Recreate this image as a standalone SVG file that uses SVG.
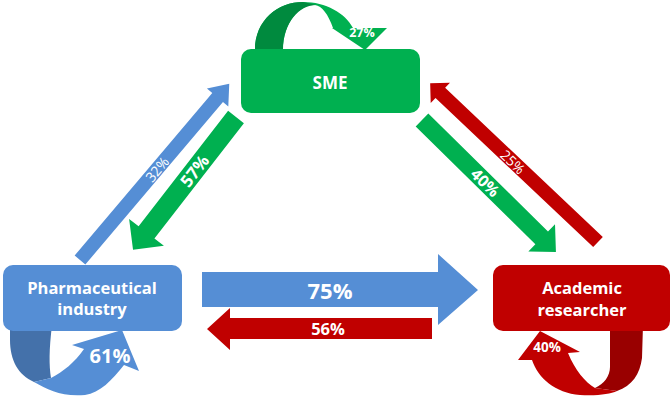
<svg xmlns="http://www.w3.org/2000/svg" width="672" height="399" viewBox="0 0 672 399">
<style>
.t{font-family:"Open Sans","Liberation Sans",sans-serif;fill:#fff;text-anchor:middle}
.b{font-weight:bold}
.blue{fill:#558ED5}
.green{fill:#00B050}
.red{fill:#C00000}
.dblue{fill:#4471AA}
.dgreen{fill:#008A3E}
.dred{fill:#990000}
</style>
<rect width="672" height="399" fill="#fff"/>
<g id="connectors">
  <!-- SME self loop -->
  <g id="loop-sme">
    <path class="green" d="M255,56 L255,50 C255,20 278,2 303,2 C326,2 345,13 353,28 L387,28 L365,50 L332,28 L333,28 C328,14 322,6 315,5 C300,4 283,22 283,50 L283,56 Z"/>
    <path class="dgreen" d="M255,56 L255,50 C255,20 278,2 303,2 L316,5 C300,5 283,22 283,50 L283,56 Z"/>
    <text class="t b" x="362" y="37" font-size="12.5">27%</text>
  </g>
  <!-- Pharma self loop -->
  <g id="loop-pharma">
    <path class="dblue" d="M10,325 L10,340 C10,360 18,375 34,382 L51,378 C49,365 49,350 52,325 Z"/>
    <path class="blue" d="M34,382 C48,390 62,397 85,395 C100,393 112,380 124,365 L139,371 L122,330 L72,345 L84,349 C75,362 63,372 51,378 Z"/>
    <text class="t b" x="110" y="363" font-size="20">61%</text>
  </g>
  <!-- Academic self loop -->
  <g id="loop-academic">
    <path class="dred" d="M610,325 L610,367 C610,376 604,384 595,388 L617,391 C632,386 640,374 642,358 L643,325 Z"/>
    <path class="red" d="M595,388 C585,382 575,370 568,353 L580,352 L540,331 L518,360 L532,360 C538,378 555,393 580,395 C598,396 610,394 617,391 Z"/>
    <text class="t b" x="547" y="352" font-size="13.5">40%</text>
  </g>
  <!-- Pharma -> SME 32% -->
  <g id="arrow-pharma-sme" transform="translate(80,260) rotate(-49.75)">
    <polygon class="blue" points="0,-7 213,-7 213,-14 231,0 213,14 213,7 0,7"/>
    <text class="t" x="119" y="0" dominant-baseline="central" font-size="14">32%</text>
  </g>
  <!-- SME -> Pharma 57% -->
  <g id="arrow-sme-pharma" transform="translate(236,117) rotate(127.8)">
    <polygon class="green" points="0,-10 146,-10 146,-22 168,0 146,22 146,10 0,10"/>
    <text class="t b" x="68" y="0" dominant-baseline="central" font-size="17" transform="rotate(180 68 0)">57%</text>
  </g>
  <!-- SME -> Academic 40% -->
  <g id="arrow-sme-academic" transform="translate(422,120) rotate(44.57)">
    <polygon class="green" points="0,-9 168,-9 168,-19 188,0 168,19 168,9 0,9"/>
    <text class="t b" x="89" y="0" dominant-baseline="central" font-size="16">40%</text>
  </g>
  <!-- Academic -> SME 25% -->
  <g id="arrow-academic-sme" transform="translate(598,242) rotate(-136.6)">
    <polygon class="red" points="0,-7 217,-7 217,-14 231,0 217,14 217,7 0,7"/>
    <text class="t" x="117" y="0" dominant-baseline="central" font-size="14" transform="rotate(180 117 0)">25%</text>
  </g>
  <!-- Pharma -> Academic 75% -->
  <g id="arrow-pharma-academic">
    <polygon class="blue" points="202,272 438,272 438,254 478,290 438,325 438,307 202,307"/>
    <text class="t b" x="330" y="299" font-size="22">75%</text>
  </g>
  <!-- Academic -> Pharma 56% -->
  <g id="arrow-academic-pharma">
    <polygon class="red" points="432,318 230,318 230,308 207,329 230,350 230,339 432,339"/>
    <text class="t b" x="328" y="335" font-size="16.5">56%</text>
  </g>
</g>
<g id="node-sme">
  <rect class="green" x="241" y="49" width="179" height="64" rx="10"/>
  <text class="t b" x="330" y="89" font-size="17">SME</text>
</g>
<g id="node-pharma">
  <rect class="blue" x="3" y="265" width="179" height="66" rx="10"/>
  <text class="t b" x="92" y="294" font-size="16.5">Pharmaceutical</text>
  <text class="t b" x="92" y="315" font-size="16.5">industry</text>
</g>
<g id="node-academic">
  <rect class="red" x="493" y="265" width="177" height="66" rx="10"/>
  <text class="t b" x="582" y="294" font-size="16.5">Academic</text>
  <text class="t b" x="582" y="316" font-size="16.5">researcher</text>
</g>
</svg>
